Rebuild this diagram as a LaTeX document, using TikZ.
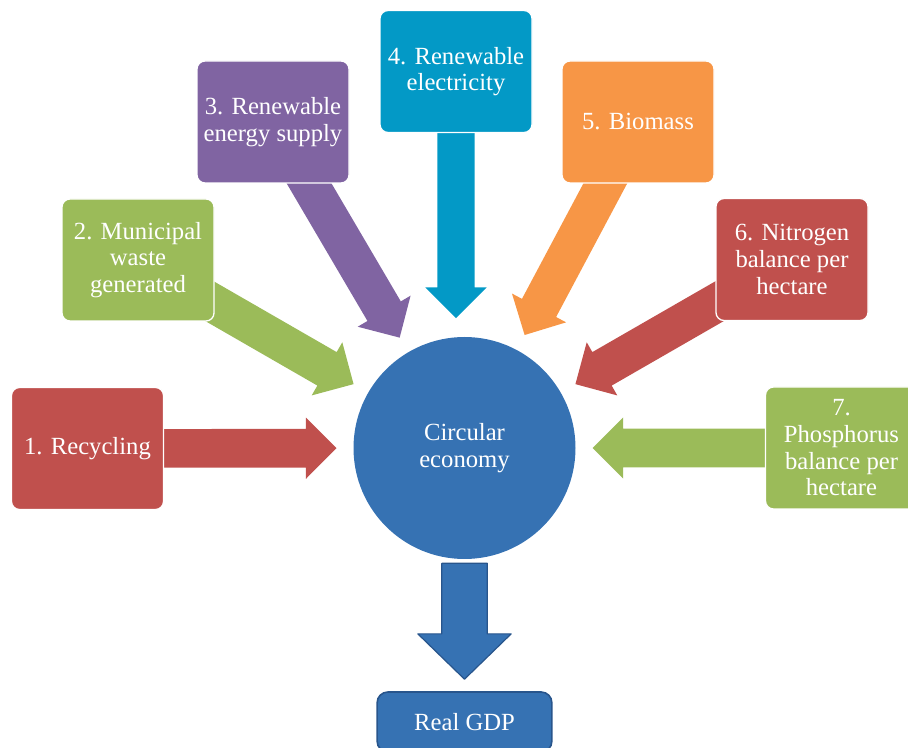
\documentclass[tikz,border=0pt]{standalone}
\usepackage{fontspec}
\setmainfont{Liberation Serif}
\usetikzlibrary{calc,backgrounds}

\definecolor{boxred}{RGB}{192,80,77}
\definecolor{boxgreen}{RGB}{155,187,89}
\definecolor{boxpurple}{RGB}{128,100,162}
\definecolor{boxaqua}{RGB}{3,153,198}
\definecolor{boxorange}{RGB}{247,150,70}
\definecolor{boxblue}{RGB}{54,114,179}
\definecolor{edgeblue}{RGB}{40,85,140}

% fat arrow: #1 style, #2 tail, #3 tip, #4 half shaft, #5 half head, #6 head length
\newcommand{\blockarrow}[6]{%
  \coordinate (ba-h) at ($(#3)!#6!(#2)$);
  \path[#1] ($(#2)!#4!90:(#3)$) -- ($(ba-h)!#4!-90:(#2)$) -- ($(ba-h)!#5!-90:(#2)$) -- (#3)
    -- ($(ba-h)!#5!90:(#2)$) -- ($(ba-h)!#4!90:(#2)$) -- ($(#2)!#4!-90:(#3)$) -- cycle;
}

\begin{document}
\begin{tikzpicture}[x=0.75pt,y=0.75pt,yscale=-1,xscale=1,
  txt/.style={text=white, align=center, font=\fontsize{18.5}{20}\selectfont},
  box/.style={txt, rounded corners=6pt, draw=white, line width=1pt, minimum width=114pt, minimum height=91.5pt, inner sep=0pt},
  fatin/.style={fill=#1, draw=none}]
\useasboundingbox (0,0) rectangle (908,748);

%Shape: Boxes
\node[box, fill=boxred] (b1) at (87.5,448.5) {1. Recycling};
\node[box, fill=boxgreen] (b2) at (138,260) {2. Municipal\\waste\\generated};
\node[box, fill=boxpurple] (b3) at (273,122) {3. Renewable\\energy supply};
\node[box, fill=boxaqua] (b4) at (456,71.5) {4. Renewable\\electricity};
\node[box, fill=boxorange] (b5) at (638,122) {5. Biomass};
\node[box, fill=boxred] (b6) at (792,259.5) {6. Nitrogen\\balance per\\hectare};
\node[box, fill=boxgreen] (b7) at (841.5,448) {7.\\Phosphorus\\balance per\\hectare};

%Shape: Circle
\node[txt, circle, fill=boxblue, minimum size=166.5pt, inner sep=0pt] (ce) at (464.5,448) {Circular\\economy};

%Shape: Result box
\node[txt, rounded corners=8pt, fill=boxblue, draw=edgeblue, line width=1.2pt, minimum width=131pt, minimum height=45pt, inner sep=0pt] (gdp) at (464.5,722) {Real GDP};

%Arrow tips
\coordinate (t1) at ($(ce)!96pt!(b1)$);
\coordinate (t2) at ($(ce)!96pt!(b2)$);
\coordinate (t3) at ($(ce)!96pt!(b3)$);
\coordinate (t4) at ($(b4.south)+(0,185)$);
\coordinate (t5) at ($(ce)!96pt!(b5)$);
\coordinate (t6) at ($(ce)!96pt!(b6)$);
\coordinate (t7) at ($(ce)!96pt!(b7)$);

%Arrows into the circle
\begin{scope}[on background layer]
\blockarrow{fatin=boxred}{b1}{t1}{14.5pt}{23pt}{23pt}
\blockarrow{fatin=boxgreen}{b2}{t2}{14.5pt}{23pt}{23pt}
\blockarrow{fatin=boxpurple}{b3}{t3}{14.5pt}{23pt}{23pt}
\blockarrow{fatin=boxaqua}{b4}{t4}{14pt}{23pt}{23pt}
\blockarrow{fatin=boxorange}{b5}{t5}{14.5pt}{23pt}{23pt}
\blockarrow{fatin=boxred}{b6}{t6}{14.5pt}{23pt}{23pt}
\blockarrow{fatin=boxgreen}{b7}{t7}{14.5pt}{23pt}{23pt}
\end{scope}

%Arrow down
\coordinate (d1) at ($(ce.south)+(0,4)$);
\coordinate (d2) at ($(gdp.north)+(0,-12)$);
\blockarrow{fill=boxblue, draw=edgeblue, line width=0.9pt, line join=round}{d1}{d2}{17pt}{35pt}{34pt}

\end{tikzpicture}
\end{document}
